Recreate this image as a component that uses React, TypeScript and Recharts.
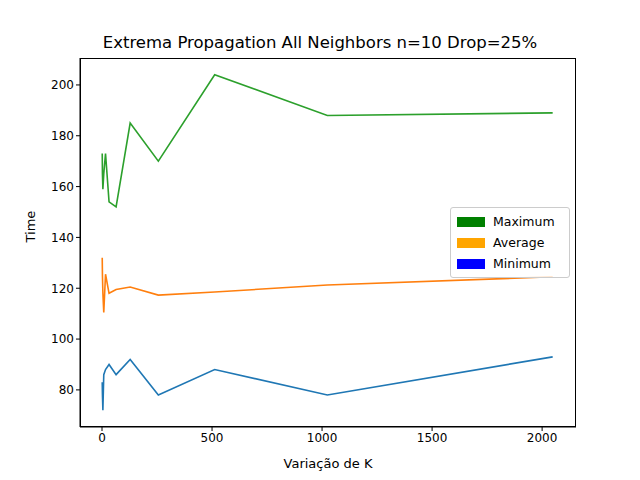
import { LineChart, Line, XAxis, YAxis } from 'recharts';

const kValues = [1, 2, 4, 8, 16, 32, 64, 128, 256, 512, 1024, 2048];
const maximum = [173, 165, 159, 165, 173, 154, 152, 185, 170, 204, 188, 189];
const average = [132, 125, 118, 110.5, 125.5, 118, 119.5, 120.5, 117.3, 118.5, 121.3, 124.5];
const minimum = [83, 78, 72, 86, 88, 90, 86, 92, 78, 88, 78, 93];
const xTicks = [0, 500, 1000, 1500, 2000];
const yTicks = [80, 100, 120, 140, 160, 180, 200];

const data = kValues.map((k, i) => ({ k, max: maximum[i], avg: average[i], min: minimum[i] }));

const legendItems = [
  { label: 'Maximum', color: '#008000' },
  { label: 'Average', color: '#ffa500' },
  { label: 'Minimum', color: '#0000ff' },
];

const font = 'DejaVu Sans, sans-serif';

export default function App() {
  return (
    <div style={{ position: 'absolute', left: 0, top: 0, width: 640, height: 480, background: '#fff', fontFamily: font }}>
      <div style={{ position: 'absolute', top: 33, width: 640, textAlign: 'center', fontSize: 16.5 }}>
        Extrema Propagation All Neighbors n=10 Drop=25%
      </div>
      <LineChart width={640} height={480} data={data} margin={{ top: 58, right: 64, left: 30, bottom: 23 }}>
        <XAxis dataKey="k" type="number" domain={[-100, 2154]} ticks={xTicks} height={30}
          tick={{ fill: '#000', fontSize: 12, fontFamily: font }} tickSize={4}
          axisLine={{ stroke: '#000' }} tickLine={{ stroke: '#000' }}
          label={{ value: 'Variação de K', position: 'insideBottom', offset: -11, fill: '#000', fontSize: 13, fontFamily: font }} />
        <YAxis type="number" domain={[65.4, 210.6]} ticks={yTicks} width={50} allowDataOverflow
          tick={{ fill: '#000', fontSize: 12, fontFamily: font }} tickSize={4}
          axisLine={{ stroke: '#000' }} tickLine={{ stroke: '#000' }}
          label={{ value: 'Time', angle: -90, position: 'insideLeft', offset: 0, fill: '#000', fontSize: 13, fontFamily: font }} />
        <Line dataKey="max" stroke="#2ca02c" strokeWidth={1.6} dot={false} isAnimationActive={false} />
        <Line dataKey="avg" stroke="#ff7f0e" strokeWidth={1.6} dot={false} isAnimationActive={false} />
        <Line dataKey="min" stroke="#1f77b4" strokeWidth={1.6} dot={false} isAnimationActive={false} />
      </LineChart>
      <div style={{ position: 'absolute', left: 80, top: 58, width: 496, height: 369, border: '1px solid #000', boxSizing: 'border-box', pointerEvents: 'none' }} />
      <div style={{ position: 'absolute', left: 450, top: 207, width: 118, padding: '3px 0', border: '1px solid #ccc', borderRadius: 3, background: 'rgba(255,255,255,0.8)', fontSize: 12.5 }}>
        {legendItems.map(it => (
          <div key={it.label} style={{ display: 'flex', alignItems: 'center', height: 21, paddingLeft: 6 }}>
            <span style={{ width: 28, height: 10, background: it.color, marginRight: 8 }} />
            {it.label}
          </div>
        ))}
      </div>
    </div>
  );
}
